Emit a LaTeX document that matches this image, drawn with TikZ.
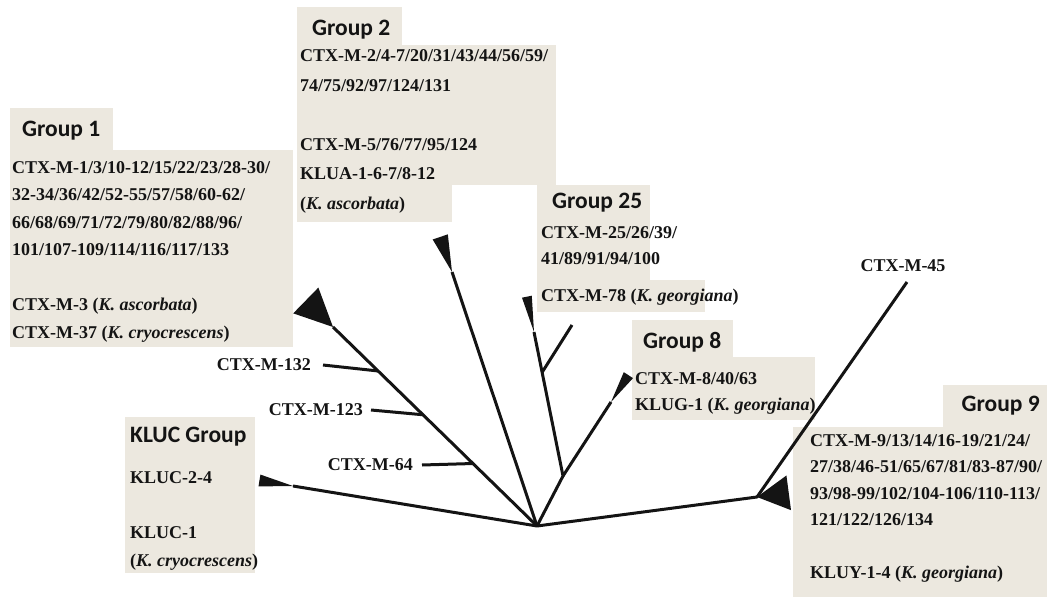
\documentclass[tikz,border=0pt]{standalone}
\usepackage{fontspec}
\setmainfont{Liberation Serif}
\newfontfamily\headfont{Carlito}
\usepackage{tikz}
\usetikzlibrary{calc}
\definecolor{cladebox}{HTML}{ECE8DF}
\definecolor{cladeink}{HTML}{141414}
\tikzset{
  branch/.style={line width=3pt, cladeink, line join=round},
  panel/.style={fill=cladebox},
  grouphead/.style={font=\headfont\bfseries\fontsize{23.5}{28}\selectfont, cladeink, inner sep=0pt, anchor=west},
  strain/.style={font=\bfseries\fontsize{18}{27}\selectfont, cladeink, inner sep=0pt, anchor=base west},
}
% collapsed clade: #1 tip, #2 node it hangs from, #3 length, #4 half width
\newcommand\clade[4]{%
  \coordinate (#1-end) at ($(#1)!-#3!(#2)$);
  \fill[cladeink] (#1) -- ($(#1-end)!#4!90:(#1)$) -- ($(#1-end)!#4!-90:(#1)$) -- cycle;
}

\begin{document}
\begin{tikzpicture}[x=1pt,y=-1pt]
  \useasboundingbox (0,0) rectangle (1047,599);

  % shaded panels
  \fill[panel] (10,108) rectangle (113,150);
  \fill[panel] (10,150) rectangle (293,347);
  \fill[panel] (297,7) rectangle (402,45);
  \fill[panel] (297,45) rectangle (556,185);
  \fill[panel] (297,185) rectangle (452,222);
  \fill[panel] (537,185) rectangle (650,217);
  \fill[panel] (537,217) rectangle (650,280);
  \fill[panel] (537,280) rectangle (705,312);
  \fill[panel] (632,320) rectangle (733,357);
  \fill[panel] (632,357) rectangle (815,420);
  \fill[panel] (943,385) rectangle (1047,427);
  \fill[panel] (793,427) rectangle (1047,597);
  \fill[panel] (125,417) rectangle (255,573);

  % group 1
  \node[grouphead] (h1) at (22,131) {Group 1};
  \foreach \s [count=\i from 0] in {{CTX-M-1/3/10-12/15/22/23/28-30/},
      {32-34/36/42/52-55/57/58/60-62/}, {66/68/69/71/72/79/80/82/88/96/},
      {101/107-109/114/116/117/133}, {},
      {CTX-M-3 (\textit{K. ascorbata})}, {CTX-M-37 (\textit{K. cryocrescens})}}
    \node[strain] (g1l\i) at (12,173+27.5*\i) {\s};

  % group 2
  \node[grouphead] (h2) at (312,30) {Group 2};
  \foreach \s [count=\i from 0] in {{CTX-M-2/4-7/20/31/43/44/56/59/},
      {74/75/92/97/124/131}, {}, {CTX-M-5/76/77/95/124},
      {KLUA-1-6-7/8-12}, {(\textit{K. ascorbata})}}
    \node[strain] (g2l\i) at (300,62+29.4*\i) {\s};

  % group 25
  \node[grouphead] (h25) at (552,203) {Group 25};
  \node[strain] (g25la) at (541,238) {CTX-M-25/26/39/};
  \node[strain] (g25lb) at (541,264) {41/89/91/94/100};
  \node[strain] (g25lc) at (541,301) {CTX-M-78 (\textit{K. georgiana})};

  % group 8
  \node[grouphead] (h8) at (643,342) {Group 8};
  \node[strain] (g8la) at (635,384) {CTX-M-8/40/63};
  \node[strain] (g8lb) at (635,410) {KLUG-1 (\textit{K. georgiana})};

  % group 9
  \node[grouphead, anchor=east] (h9) at (1040,406) {Group 9};
  \foreach \s [count=\i from 0] in {{CTX-M-9/13/14/16-19/21/24/},
      {27/38/46-51/65/67/81/83-87/90/}, {93/98-99/102/104-106/110-113/},
      {121/122/126/134}, {}, {KLUY-1-4 (\textit{K. georgiana})}}
    \node[strain] (g9l\i) at (810,446+26.5*\i) {\s};

  % KLUC group
  \node[grouphead] (hk) at (130,437) {KLUC Group};
  \node[strain] (kla) at (130,483) {KLUC-2-4};
  \node[strain] (klb) at (130,538) {KLUC-1};
  \node[strain] (klc) at (130,566) {(\textit{K. cryocrescens})};

  % tree
  \coordinate (root) at (537,526);
  \coordinate (j25) at (563,476);
  \coordinate (g1) at (333,327);
  \coordinate (g2) at (452,272);
  \coordinate (g25) at (534,332);
  \coordinate (g8) at (611,402);
  \coordinate (g9) at (757,497);
  \coordinate (kluc) at (293,486);
  \coordinate (c45) at (907,282);
  \coordinate (s25) at (572,325);
  \coordinate (j78) at ($(j25)!0.72!(g25)$);
  \coordinate (j64) at ($(root)!0.314!(g1)$);
  \coordinate (j123) at ($(root)!0.559!(g1)$);
  \coordinate (j132) at ($(root)!0.779!(g1)$);

  \draw[branch] (root) -- (kluc);
  \draw[branch] (root) -- (g1);
  \draw[branch] (root) -- (g2);
  \draw[branch] (root) -- (j25) -- (g25);
  \draw[branch] (j25) -- (g8);
  \draw[branch] (j78) -- (s25);
  \draw[branch] (root) -- (g9) -- (c45);

  \clade{g1}{root}{38pt}{18pt}
  \clade{g2}{root}{37pt}{8pt}
  \clade{g25}{j25}{36pt}{5pt}
  \clade{g8}{j25}{32pt}{5.5pt}
  \clade{g9}{root}{32pt}{17.5pt}
  \clade{kluc}{root}{34pt}{6pt}

  % single strains
  \node[strain, anchor=east] (l132) at (311,365) {CTX-M-132};
  \node[strain, anchor=east] (l123) at (363,410) {CTX-M-123};
  \node[strain, anchor=east] (l64) at (413,465) {CTX-M-64};
  \node[strain, anchor=base] (l45) at (903,271) {CTX-M-45};
  \draw[branch] ([xshift=12pt]l132.east) -- (j132);
  \draw[branch] ([xshift=8pt]l123.east) -- (j123);
  \draw[branch] ([xshift=9pt]l64.east) -- (j64);
\end{tikzpicture}
\end{document}
